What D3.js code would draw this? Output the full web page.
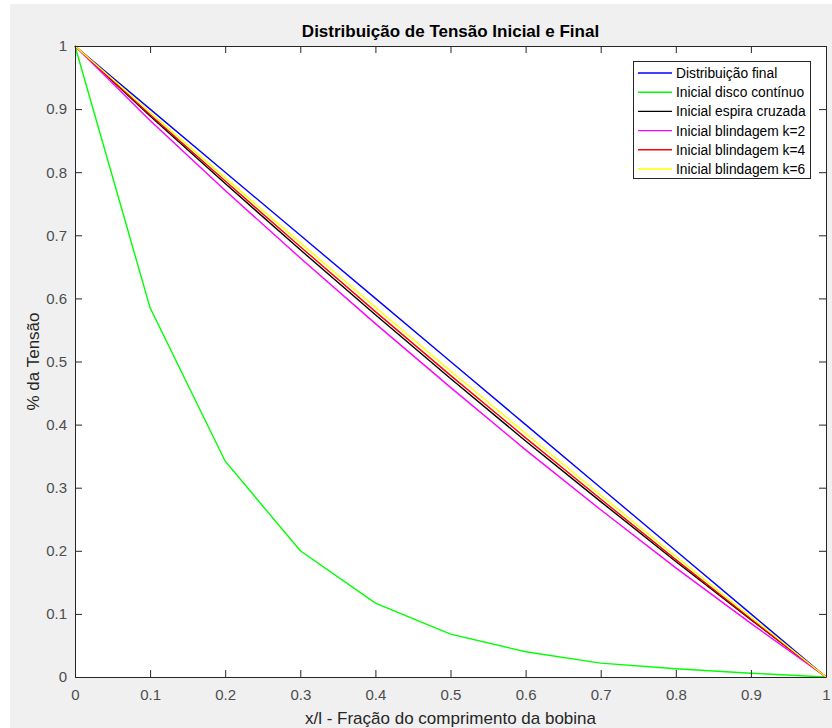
<!DOCTYPE html>
<head>
  <meta charset="utf-8">
  <script src="https://cdn.jsdelivr.net/npm/d3@7"></script>
  <style>
    body { margin:0; background:#fff; }
    .tick text { font-family: "Liberation Sans", Arial, sans-serif; font-size: 15px; fill: #4d4d4d; }
    .axis path, .axis line { stroke: #262626; }
    .line { fill: none; stroke-width: 1.4px; }
  </style>
</head>

<body>
  <script>
    // x/l positions
    var xs = [0, 0.1, 0.2, 0.3, 0.4, 0.5, 0.6, 0.7, 0.8, 0.9, 1];

    // series
    var finalDist   = [1, 0.9, 0.8, 0.7, 0.6, 0.5, 0.4, 0.3, 0.2, 0.1, 0];
    var discoCont   = [1, 0.585, 0.342, 0.200, 0.117, 0.068, 0.040, 0.022, 0.013, 0.006, 0];
    var espiraCruz  = [1, 0.889, 0.782, 0.677, 0.574, 0.473, 0.374, 0.278, 0.183, 0.091, 0];
    var blindK2     = [1, 0.882, 0.771, 0.664, 0.560, 0.459, 0.360, 0.265, 0.173, 0.085, 0];
    var blindK4     = [1, 0.891, 0.786, 0.682, 0.579, 0.478, 0.379, 0.282, 0.186, 0.092, 0];
    var blindK6     = [1, 0.895, 0.791, 0.688, 0.586, 0.485, 0.386, 0.288, 0.191, 0.095, 0];

    var seriesNames  = ["Distribuição final", "Inicial disco contínuo", "Inicial espira cruzada",
                        "Inicial blindagem k=2", "Inicial blindagem k=4", "Inicial blindagem k=6"];
    var seriesColors = ["#0000ff", "#00ff00", "#000000", "#ff00ff", "#ff0000", "#ffff00"];
    var seriesValues = [finalDist, discoCont, espiraCruz, blindK2, blindK4, blindK6];

    var tickVals = [0, 0.1, 0.2, 0.3, 0.4, 0.5, 0.6, 0.7, 0.8, 0.9, 1];

    var W = 832, H = 728;
    // note: "top" is taken by window.top, so plot edges get their own names
    var pL = 75, pR = 826, pT = 46, pB = 677;

    var svg = d3.select("body").append("svg")
        .attr("width", W)
        .attr("height", H)
        .style("display", "block");

    // figure background
    svg.append("rect")
        .attr("x", 10).attr("y", 4)
        .attr("width", W - 10).attr("height", H - 4)
        .attr("fill", "#f0f0f0");

    svg.append("rect")
        .attr("x", pL).attr("y", pT)
        .attr("width", pR - pL).attr("height", pB - pT)
        .attr("fill", "#fff");

    var x = d3.scaleLinear().domain([0, 1]).range([pL, pR]);
    var y = d3.scaleLinear().domain([0, 1]).range([pB, pT]);

    var fmt = function(d) { return d3.format("~g")(d); };

    // lines (drawn before the axes so the box sits on top)
    var line = d3.line()
        .x(function(d, i) { return x(xs[i]); })
        .y(function(d) { return y(d); });

    seriesValues.forEach(function(vals, i) {
      svg.append("path")
          .datum(vals)
          .attr("class", "line")
          .attr("stroke", seriesColors[i])
          .attr("d", line);
    });

    // axes, ticks pointing inward
    svg.append("g")
        .attr("class", "axis")
        .attr("transform", "translate(0," + pB + ")")
        .call(d3.axisBottom(x).tickValues(tickVals).tickFormat(fmt).tickSizeInner(-7).tickSizeOuter(0).tickPadding(12));

    svg.append("g")
        .attr("class", "axis")
        .attr("transform", "translate(0," + pT + ")")
        .call(d3.axisTop(x).tickValues(tickVals).tickFormat("").tickSizeInner(-7).tickSizeOuter(0));

    svg.append("g")
        .attr("class", "axis")
        .attr("transform", "translate(" + pL + ",0)")
        .call(d3.axisLeft(y).tickValues(tickVals).tickFormat(fmt).tickSizeInner(-7).tickSizeOuter(0).tickPadding(8));

    svg.append("g")
        .attr("class", "axis")
        .attr("transform", "translate(" + pR + ",0)")
        .call(d3.axisRight(y).tickValues(tickVals).tickFormat("").tickSizeInner(-7).tickSizeOuter(0));

    // title + labels
    svg.append("text")
        .attr("x", (pL + pR) / 2)
        .attr("y", 37)
        .attr("text-anchor", "middle")
        .style("font-family", "Liberation Sans, Arial, sans-serif")
        .style("font-size", "17px")
        .style("font-weight", "bold")
        .attr("fill", "#000")
        .text("Distribuição de Tensão Inicial e Final");

    svg.append("text")
        .attr("x", (pL + pR) / 2)
        .attr("y", 724)
        .attr("text-anchor", "middle")
        .style("font-family", "Liberation Sans, Arial, sans-serif")
        .style("font-size", "17px")
        .attr("fill", "#262626")
        .text("x/l - Fração do comprimento da bobina");

    svg.append("text")
        .attr("transform", "translate(39," + ((pT + pB) / 2) + ") rotate(-90)")
        .attr("text-anchor", "middle")
        .style("font-family", "Liberation Sans, Arial, sans-serif")
        .style("font-size", "17px")
        .attr("fill", "#262626")
        .text("% da Tensão");

    // legend
    var lg = svg.append("g");
    lg.append("rect")
        .attr("x", 633.5).attr("y", 61.5)
        .attr("width", 177).attr("height", 117)
        .attr("fill", "#fff")
        .attr("stroke", "#262626")
        .attr("stroke-width", 1);

    seriesNames.forEach(function(name, i) {
      var yy = 73 + i * 19.2;
      lg.append("line")
          .attr("x1", 638).attr("x2", 672)
          .attr("y1", yy).attr("y2", yy)
          .attr("stroke", seriesColors[i])
          .attr("stroke-width", 1.4);
      lg.append("text")
          .attr("x", 676)
          .attr("y", yy + 5)
          .style("font-family", "Liberation Sans, Arial, sans-serif")
          .style("font-size", "13.8px")
          .attr("fill", "#000")
          .text(name);
    });
  </script>
</body>
